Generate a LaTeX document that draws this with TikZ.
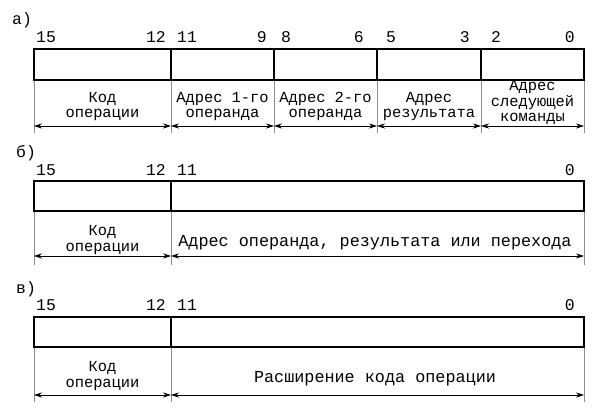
\documentclass[tikz,border=0pt]{standalone}
\usepackage{fontspec}
\setmainfont{Liberation Mono}
\usetikzlibrary{arrows.meta}
\begin{document}
\begin{tikzpicture}[x=1pt,y=-1pt,
  cellbox/.style={draw=black,line width=1.1pt},
  extline/.style={draw=black!45,line width=0.6pt},
  dimarrow/.style={draw=black,line width=0.6pt,{Stealth[length=8pt,width=5pt]}-{Stealth[length=8pt,width=5pt]}},
  txt/.style={inner sep=0pt,align=center,font=\fontsize{15.4}{15.5}\selectfont},
  wide/.style={inner sep=0pt,align=center,font=\fontsize{16.8}{15.5}\selectfont},
  num/.style={inner sep=0pt,font=\fontsize{16.4}{14}\selectfont},
  lbl/.style={inner sep=0pt,anchor=west,font=\fontsize{16.4}{14}\selectfont}]
\useasboundingbox (0,0) rectangle (599,409);

% ---------- a) ----------
\node[lbl] (la) at (12,20) {а)};
\foreach \n/\x in {a0/34,a1/171,a2/274,a3/377,a4/481,a5/584}{
  \coordinate (\n t) at (\x,49);
  \coordinate (\n b) at (\x,80);
  \coordinate (\n e) at (\x,133);
  \coordinate (\n r) at (\x,126);
}
\foreach \n in {a0,a1,a2,a3,a4,a5}{\draw[extline] (\n b) -- (\n e);}
\draw[cellbox] (a0t) rectangle (a5b);
\foreach \n in {a1,a2,a3,a4}{\draw[cellbox] (\n t) -- (\n b);}
\draw[dimarrow] (a0r) -- (a1r);
\draw[dimarrow] (a1r) -- (a2r);
\draw[dimarrow] (a2r) -- (a3r);
\draw[dimarrow] (a3r) -- (a4r);
\draw[dimarrow] (a4r) -- (a5r);
\node[num,anchor=west] (na15) at (36,37) {15};
\node[num,anchor=east] (na12) at (166,37) {12};
\node[num,anchor=west] (na11) at (177,37) {11};
\node[num,anchor=east] (na9) at (267,37) {9};
\node[num,anchor=west] (na8) at (281,37) {8};
\node[num,anchor=east] (na6) at (364,37) {6};
\node[num,anchor=west] (na5) at (386,37) {5};
\node[num,anchor=east] (na3) at (470,37) {3};
\node[num,anchor=west] (na2) at (491,37) {2};
\node[num,anchor=east] (na0) at (575,37) {0};
\node[txt] (ta1) at (102.5,106.5) {Код\\операции};
\node[txt] (ta2) at (222.5,106.5) {Адрес 1-го\\операнда};
\node[txt] (ta3) at (325.5,106.5) {Адрес 2-го\\операнда};
\node[txt] (ta4) at (429,106.5) {Адрес\\результата};
\node[txt] (ta5) at (532.5,102.5) {Адрес\\следующей\\команды};

% ---------- b) ----------
\node[lbl] (lb) at (16,153) {б)};
\foreach \n/\x in {b0/34,b1/171,b2/584}{
  \coordinate (\n t) at (\x,181);
  \coordinate (\n b) at (\x,211);
  \coordinate (\n e) at (\x,265);
  \coordinate (\n r) at (\x,256);
}
\foreach \n in {b0,b1,b2}{\draw[extline] (\n b) -- (\n e);}
\draw[cellbox] (b0t) rectangle (b2b);
\draw[cellbox] (b1t) -- (b1b);
\draw[dimarrow] (b0r) -- (b1r);
\draw[dimarrow] (b1r) -- (b2r);
\node[num,anchor=west] (nb15) at (36,170) {15};
\node[num,anchor=east] (nb12) at (166,170) {12};
\node[num,anchor=west] (nb11) at (177,170) {11};
\node[num,anchor=east] (nb0) at (575,170) {0};
\node[txt] (tb1) at (102.5,240) {Код\\операции};
\node[wide] (tb2) at (375,243) {Адрес операнда, результата или перехода};

% ---------- c) ----------
\node[lbl] (lc) at (16,289) {в)};
\foreach \n/\x in {c0/34,c1/171,c2/584}{
  \coordinate (\n t) at (\x,317);
  \coordinate (\n b) at (\x,347);
  \coordinate (\n e) at (\x,402);
  \coordinate (\n r) at (\x,395);
}
\foreach \n in {c0,c1,c2}{\draw[extline] (\n b) -- (\n e);}
\draw[cellbox] (c0t) rectangle (c2b);
\draw[cellbox] (c1t) -- (c1b);
\draw[dimarrow] (c0r) -- (c1r);
\draw[dimarrow] (c1r) -- (c2r);
\node[num,anchor=west] (nc15) at (36,305) {15};
\node[num,anchor=east] (nc12) at (166,305) {12};
\node[num,anchor=west] (nc11) at (177,305) {11};
\node[num,anchor=east] (nc0) at (575,305) {0};
\node[txt] (tc1) at (102.5,376) {Код\\операции};
\node[wide] (tc2) at (375,379) {Расширение кода операции};
\end{tikzpicture}
\end{document}
